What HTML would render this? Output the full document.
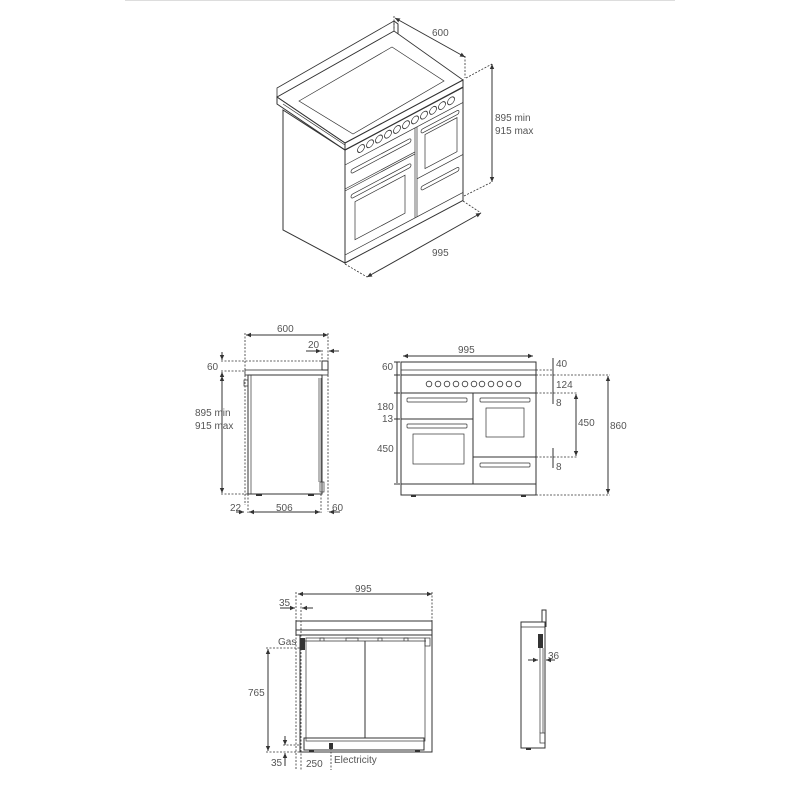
<!DOCTYPE html>
<html><head><meta charset="utf-8"><style>
html,body{margin:0;padding:0;background:#fff;width:800px;height:800px;overflow:hidden}
svg{display:block}
text{font-family:"Liberation Sans",sans-serif;font-size:10px;fill:#555}
.l{fill:none;stroke:#333;stroke-width:1}
.t{fill:none;stroke:#333;stroke-width:0.7}
.d{fill:none;stroke:#333;stroke-width:0.8;stroke-dasharray:2,1.5}
.k{fill:#fff;stroke:#333;stroke-width:0.8}
</style></head><body>
<svg width="800" height="800" viewBox="0 0 800 800" xmlns="http://www.w3.org/2000/svg">
<defs><marker id="a" markerWidth="6" markerHeight="6" refX="5" refY="3" orient="auto-start-reverse"><path d="M0,0.8 L5,3 L0,5.2z" fill="#333"/></marker></defs>
<line x1="125" y1="0.5" x2="675" y2="0.5" stroke="#ddd" stroke-width="1"/>

<!-- ===== ISO VIEW ===== -->
<polygon class="l" points="283,110 345,150 345,263 283,230"/>
<polygon class="k" points="277,97 394,31 463,80 345,143"/>
<polygon class="l" points="345,143 463,80 463,87 345,150"/>
<polygon class="l" points="277,97 345,143 345,150 277,104"/>
<!-- upstand -->
<polygon class="k" points="277,97 394,31 394,21 277,88"/>
<polyline class="l" points="394,21 398,24 398,34"/>
<polygon class="t" points="299,101 392,47 444,81 353,134"/>
<line class="t" x1="283" y1="104" x2="345" y2="145"/>
<g transform="matrix(1,-0.53,0,1,345,150)">
<rect class="l" x="0" y="0" width="118" height="113" vector-effect="non-scaling-stroke"/>
<line class="t" x1="0" y1="15" x2="118" y2="15" vector-effect="non-scaling-stroke"/>
<g class="k" vector-effect="non-scaling-stroke">
<circle cx="16" cy="7" r="3.5"/><circle cx="25" cy="7" r="3.5"/><circle cx="34" cy="7" r="3.5"/><circle cx="43" cy="7" r="3.5"/><circle cx="52" cy="7" r="3.5"/><circle cx="61" cy="7" r="3.5"/><circle cx="70" cy="7" r="3.5"/><circle cx="79" cy="7" r="3.5"/><circle cx="88" cy="7" r="3.5"/><circle cx="97" cy="7" r="3.5"/><circle cx="106" cy="7" r="3.5"/>
</g>
<line class="t" x1="70" y1="15" x2="70" y2="105" vector-effect="non-scaling-stroke"/>
<line class="t" x1="72" y1="15" x2="72" y2="105" vector-effect="non-scaling-stroke"/>
<line class="t" x1="0" y1="39" x2="70" y2="39" vector-effect="non-scaling-stroke"/>
<line class="t" x1="0" y1="41" x2="70" y2="41" vector-effect="non-scaling-stroke"/>
<rect class="t" x="6" y="23" width="60" height="4" rx="2" vector-effect="non-scaling-stroke"/>
<rect class="t" x="6" y="48" width="60" height="4" rx="2" vector-effect="non-scaling-stroke"/>
<rect class="t" x="10" y="57" width="50" height="38" vector-effect="non-scaling-stroke"/>
<rect class="t" x="76" y="20" width="38" height="4" rx="2" vector-effect="non-scaling-stroke"/>
<rect class="t" x="80" y="27" width="32" height="34" vector-effect="non-scaling-stroke"/>
<line class="t" x1="72" y1="67" x2="118" y2="67" vector-effect="non-scaling-stroke"/>
<rect class="t" x="76" y="77" width="38" height="4" rx="2" vector-effect="non-scaling-stroke"/>
<line class="t" x1="0" y1="105" x2="118" y2="105" vector-effect="non-scaling-stroke"/>
</g>
<!-- iso dims -->
<line class="l" x1="395" y1="18" x2="465" y2="57" marker-start="url(#a)" marker-end="url(#a)"/>
<line class="d" x1="394" y1="16" x2="394" y2="30"/>
<line class="d" x1="465" y1="56" x2="465" y2="78"/>
<text x="432" y="36">600</text>
<line class="l" x1="492" y1="64" x2="492" y2="182" marker-start="url(#a)" marker-end="url(#a)"/>
<line class="d" x1="466" y1="78" x2="492" y2="64"/>
<line class="d" x1="464" y1="196" x2="492" y2="182"/>
<text x="495" y="121">895 min</text><text x="495" y="134">915 max</text>
<line class="l" x1="367" y1="277" x2="481" y2="213" marker-start="url(#a)" marker-end="url(#a)"/>
<line class="d" x1="345" y1="264" x2="367" y2="277"/>
<line class="d" x1="463" y1="201" x2="481" y2="213"/>
<text x="432" y="256">995</text>

<!-- ===== SIDE VIEW ===== -->
<line class="l" x1="246" y1="335" x2="328" y2="335" marker-start="url(#a)" marker-end="url(#a)"/>
<text x="277" y="332">600</text>
<line class="d" x1="245" y1="333" x2="245" y2="505"/>
<line class="d" x1="328" y1="333" x2="328" y2="512"/>
<line class="d" x1="322" y1="350" x2="322" y2="370"/>
<line class="l" x1="306" y1="351" x2="321" y2="351" marker-end="url(#a)"/>
<line class="l" x1="339" y1="351" x2="329" y2="351" marker-end="url(#a)"/>
<text x="308" y="348">20</text>
<line class="d" x1="221" y1="361" x2="328" y2="361"/>
<line class="d" x1="221" y1="371" x2="245" y2="371"/>
<rect class="k" x="245" y="370" width="83" height="5"/>
<rect class="l" x="322" y="361" width="6" height="9"/>
<line class="l" x1="222" y1="352" x2="222" y2="360" marker-end="url(#a)"/>
<line class="l" x1="222" y1="380" x2="222" y2="372" marker-end="url(#a)"/>
<text x="207" y="370">60</text>
<rect class="l" x="248" y="375" width="74" height="119"/>
<line class="t" x1="251" y1="375" x2="251" y2="494"/>
<line class="t" x1="319" y1="378" x2="319" y2="482"/>
<line class="t" x1="321" y1="378" x2="321" y2="482"/>
<rect class="t" x="244" y="380" width="4" height="6"/>
<rect class="t" x="320" y="482" width="4" height="10"/>
<rect x="256" y="494" width="6" height="2" fill="#333"/><rect x="308" y="494" width="6" height="2" fill="#333"/>
<line class="l" x1="222" y1="376" x2="222" y2="493" marker-start="url(#a)" marker-end="url(#a)"/>
<line class="d" x1="221" y1="494" x2="248" y2="494"/>
<text x="195" y="416">895 min</text><text x="195" y="429">915 max</text>
<line class="d" x1="248" y1="494" x2="248" y2="513"/>
<line class="d" x1="321" y1="494" x2="321" y2="513"/>
<line class="l" x1="236" y1="512" x2="244" y2="512" marker-end="url(#a)"/>
<line class="l" x1="249" y1="512" x2="320" y2="512" marker-start="url(#a)" marker-end="url(#a)"/>
<line class="l" x1="340" y1="512" x2="329" y2="512" marker-end="url(#a)"/>
<text x="230" y="511">22</text><text x="276" y="511">506</text><text x="332" y="511">60</text>

<!-- ===== FRONT VIEW ===== -->
<line class="l" x1="403" y1="356" x2="533" y2="356" marker-start="url(#a)" marker-end="url(#a)"/>
<text x="458" y="353">995</text>
<rect class="l" x="401" y="362" width="135" height="13"/>
<line class="t" x1="401" y1="370" x2="536" y2="370"/>
<rect class="l" x="401" y="375" width="135" height="18"/>
<g class="k">
<circle cx="429" cy="384" r="2.8"/><circle cx="438" cy="384" r="2.8"/><circle cx="447" cy="384" r="2.8"/><circle cx="456" cy="384" r="2.8"/><circle cx="465" cy="384" r="2.8"/><circle cx="474" cy="384" r="2.8"/><circle cx="482" cy="384" r="2.8"/><circle cx="491" cy="384" r="2.8"/><circle cx="500" cy="384" r="2.8"/><circle cx="509" cy="384" r="2.8"/><circle cx="518" cy="384" r="2.8"/>
</g>
<rect class="l" x="401" y="393" width="135" height="91"/>
<line class="l" x1="473" y1="393" x2="473" y2="484"/>
<line class="l" x1="401" y1="419" x2="473" y2="419"/>
<line class="l" x1="473" y1="457" x2="536" y2="457"/>
<rect class="t" x="407" y="398" width="60" height="4" rx="1"/>
<rect class="t" x="407" y="424" width="60" height="4" rx="1"/>
<rect class="t" x="413" y="434" width="51" height="30"/>
<rect class="t" x="480" y="398" width="50" height="4" rx="1"/>
<rect class="t" x="486" y="408" width="38" height="29"/>
<rect class="t" x="480" y="463" width="50" height="4" rx="1"/>
<rect class="l" x="401" y="484" width="135" height="11"/>
<rect x="411" y="495" width="5" height="2" fill="#333"/><rect x="521" y="495" width="5" height="2" fill="#333"/>
<line class="l" x1="397" y1="362" x2="397" y2="483" />
<line class="l" x1="394" y1="362" x2="400" y2="362"/><line class="l" x1="394" y1="375" x2="400" y2="375"/>
<line class="l" x1="394" y1="393" x2="400" y2="393"/><line class="l" x1="394" y1="419" x2="400" y2="419"/><line class="l" x1="394" y1="484" x2="400" y2="484"/>
<text x="382" y="370">60</text><text x="377" y="410">180</text><text x="382" y="422">13</text><text x="377" y="452">450</text>
<line class="d" x1="536" y1="370" x2="553" y2="370"/>
<line class="d" x1="536" y1="375" x2="610" y2="375"/>
<line class="d" x1="536" y1="393" x2="578" y2="393"/>
<line class="d" x1="536" y1="457" x2="578" y2="457"/>
<line class="d" x1="536" y1="495" x2="610" y2="495"/>
<line class="l" x1="553" y1="358" x2="553" y2="404"/>
<line class="l" x1="553" y1="448" x2="553" y2="468"/>
<text x="556" y="367">40</text><text x="556" y="388">124</text><text x="556" y="406">8</text><text x="556" y="470">8</text>
<line class="l" x1="576" y1="394" x2="576" y2="456" marker-start="url(#a)" marker-end="url(#a)"/>
<text x="578" y="426">450</text>
<line class="l" x1="608" y1="376" x2="608" y2="494" marker-start="url(#a)" marker-end="url(#a)"/>
<text x="610" y="429">860</text>

<!-- ===== BACK VIEW ===== -->
<line class="l" x1="298" y1="594" x2="432" y2="594" marker-start="url(#a)" marker-end="url(#a)"/>
<text x="355" y="592">995</text>
<line class="d" x1="296" y1="592" x2="296" y2="770"/>
<line class="d" x1="432" y1="592" x2="432" y2="622"/>
<line class="d" x1="301" y1="603" x2="301" y2="770"/>
<line class="l" x1="280" y1="608" x2="295" y2="608" marker-end="url(#a)"/>
<line class="l" x1="313" y1="608" x2="302" y2="608" marker-end="url(#a)"/>
<text x="279" y="606">35</text>
<rect class="l" x="296" y="621" width="136" height="9"/>
<rect class="l" x="296" y="630" width="136" height="5"/>
<rect class="l" x="300" y="635" width="132" height="117"/>
<rect class="t" x="306" y="638" width="119" height="103"/>
<line class="t" x1="305" y1="641" x2="426" y2="641"/>
<line class="l" x1="365" y1="641" x2="365" y2="738"/>
<path class="t" d="M320,641 v-3 h4 v3 M346,641 v-3 h12 v3 M378,641 v-3 h4 v3 M404,641 v-3 h4 v3"/>
<rect x="300" y="638" width="5" height="12" fill="#333"/>
<rect class="t" x="425" y="638" width="5" height="8"/>
<rect class="l" x="304" y="738" width="120" height="12"/>
<rect x="329" y="743" width="4" height="6" fill="#333"/>
<rect x="309" y="750" width="5" height="2" fill="#333"/><rect x="415" y="750" width="5" height="2" fill="#333"/>
<text x="278" y="645">Gas</text>
<line class="d" x1="266" y1="648" x2="301" y2="648"/>
<line class="d" x1="266" y1="752" x2="300" y2="752"/>
<line class="l" x1="268" y1="649" x2="268" y2="751" marker-start="url(#a)" marker-end="url(#a)"/>
<text x="248" y="696">765</text>
<line class="l" x1="285" y1="736" x2="285" y2="745" marker-end="url(#a)"/>
<line class="d" x1="283" y1="745" x2="300" y2="745"/>
<line class="l" x1="285" y1="766" x2="285" y2="753" marker-end="url(#a)"/>
<text x="271" y="766">35</text>
<line class="d" x1="331" y1="748" x2="331" y2="770"/>
<text x="306" y="767">250</text>
<text x="334" y="763">Electricity</text>

<!-- ===== SMALL SIDE ===== -->
<rect class="l" x="521" y="622" width="24" height="126"/>
<line class="t" x1="521" y1="627" x2="545" y2="627"/>
<polyline class="l" points="542,622 542,610 546,610 546,627"/>
<rect x="538" y="634" width="5" height="14" fill="#333"/>
<line class="t" x1="540" y1="648" x2="540" y2="733"/>
<line class="t" x1="543" y1="648" x2="543" y2="733"/>
<rect class="t" x="540" y="733" width="5" height="10"/>
<rect x="526" y="748" width="5" height="2" fill="#333"/>
<line class="l" x1="528" y1="660" x2="538" y2="660" marker-end="url(#a)"/>
<line class="l" x1="555" y1="660" x2="546" y2="660" marker-end="url(#a)"/>
<text x="548" y="659">36</text>
</svg>
</body></html>
